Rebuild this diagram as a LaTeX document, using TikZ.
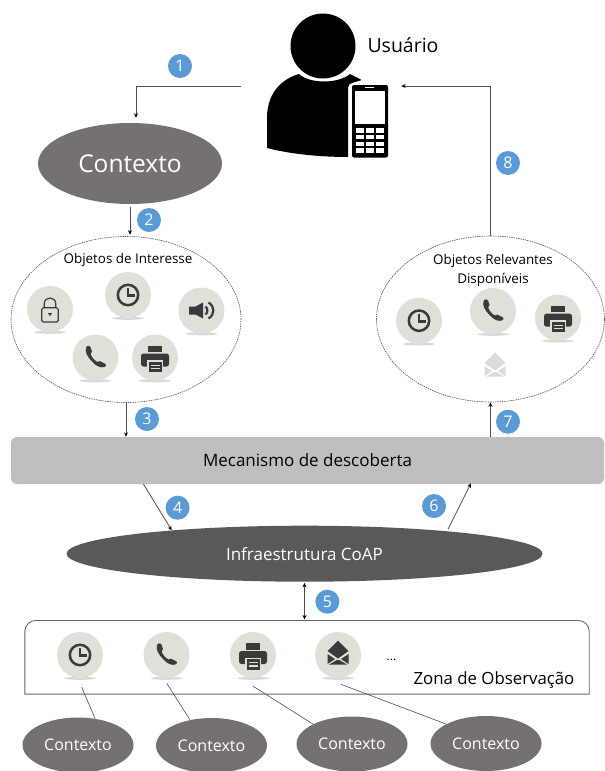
\documentclass[tikz,border=0pt]{standalone}
\usepackage{fontspec}
\setmainfont{Open Sans}
\usetikzlibrary{shapes.geometric,arrows.meta}
\definecolor{ctxgray}{HTML}{767171}
\definecolor{infragray}{HTML}{595959}
\definecolor{mechgray}{HTML}{BFBFBF}
\definecolor{badgeblue}{HTML}{5B9BD5}
\definecolor{iconbg}{HTML}{E0E0D9}
\definecolor{icondark}{HTML}{3A3A3A}
\definecolor{lineg}{HTML}{4D4D4D}
\newcommand{\fsz}[1]{\fontsize{#1}{19}\selectfont}
\tikzset{
  conn/.style={draw=lineg,line width=0.8pt},
  arr/.style={conn,-{Stealth[length=4.5pt,width=4pt,black]}},
  biarr/.style={conn,{Stealth[length=4.5pt,width=4pt,black]}-{Stealth[length=4.5pt,width=4pt,black]}},
  thinl/.style={draw=lineg,line width=0.6pt},
  badge/.style={circle,fill=badgeblue,text=white,minimum size=24pt,inner sep=0pt,font=\fsz{16}},
  ctxbig/.style={ellipse,fill=ctxgray,text=white,minimum width=184pt,minimum height=81pt,inner sep=0pt,font=\fsz{24.5}},
  ctxsmall/.style={ellipse,fill=ctxgray,text=white,minimum width=111pt,minimum height=55pt,inner sep=0pt,font=\fsz{16}},
  dashell/.style={ellipse,draw=lineg,line width=0.6pt,dash pattern=on 1.4pt off 0.9pt,inner sep=0pt},
  lbl/.style={inner sep=0pt,text=black,font=\fsz{13.4}},
  iconc/.style={circle,fill=iconbg,minimum size=46pt,inner sep=0pt},
  shadowc/.style={ellipse,fill=black!35,opacity=.42,minimum width=32pt,minimum height=3pt,inner sep=0pt},
  pics/clockg/.style={code={
    \draw[icondark,line width=2.5pt] (0,0) circle[radius=10.2pt];
    \draw[icondark,line width=2.4pt] (0,-6.8) -- (0,0.6) -- (7,0.6);}},
  pics/phoneg/.style={code={
    \fill[icondark] (-9,-11) .. controls (-7.5,-12) and (-5.5,-12) .. (-5,-10.5) -- (-3.5,-6)
      .. controls (-3.2,-4.8) and (-4,-4.2) .. (-4.8,-3.5)
      .. controls (-4,-0.5) and (-1,3) .. (2,4.5)
      .. controls (2.8,3.8) and (3.6,3.2) .. (4.5,3.6) -- (10,6.5)
      .. controls (11,7) and (10.5,8.5) .. (9.5,9.2)
      .. controls (6,11) and (1,9) .. (-3,4.5)
      .. controls (-8,-0.5) and (-11.5,-6) .. (-9,-11) -- cycle;}},
  pics/printerg/.style={code={
    \fill[icondark] (-7,-12) rectangle (7,-5.5);
    \fill[icondark,rounded corners=2.5pt] (-14,-4) rectangle (14,9);
    \fill[iconbg] (-8,2.6) rectangle (8,15.4);
    \fill[icondark] (-6.4,4.2) rectangle (6.8,14.6);
    \fill[iconbg] (-4.4,7.2) rectangle (4.8,8.4);
    \fill[iconbg] (-4.4,10.4) rectangle (4.8,11.6);}},
  pics/speakerg/.style={code={
    \fill[icondark] (-12.5,-4) -- (-6,-4) -- (1.5,-8) -- (1.5,8) -- (-6,4) -- (-12.5,4) -- cycle;
    \draw[icondark,line width=2.2pt] (4,-4) .. controls (6.5,-2) and (6.5,2) .. (4,4);
    \draw[icondark,line width=2.2pt] (7,-8) .. controls (13.5,-4) and (13.5,4) .. (7,8);}},
  pics/lockg/.style={code={
    \draw[icondark,line width=1.2pt,rounded corners=1.5pt] (-8.2,-1.2) rectangle (8.2,13);
    \draw[icondark,line width=1.2pt] (-5.8,-1.2) -- (-5.8,-5) .. controls (-5.8,-13) and (5.8,-13) .. (5.8,-5) -- (5.8,-1.2);
    \fill[icondark] (-1.6,4) rectangle (1.6,5.2);
    \fill[icondark] (-1.2,5.2) -- (1.2,5.2) -- (0,7.4) -- cycle;}},
  pics/envelg/.style={code={
    \fill[#1] (-10.5,-4) -- (0,-14.5) -- (10.5,-4) -- (0,3.5) -- cycle;
    \fill[#1] (-10.5,-1) -- (-3,4) -- (-10.5,9) -- cycle;
    \fill[#1] (10.5,-1) -- (3,4) -- (10.5,9) -- cycle;
    \fill[#1] (-9,9.5) -- (-1.5,5.2) -- (1.5,5.2) -- (9,9.5) -- cycle;}},
}
\newcommand{\iconat}[4]{%
  \node[shadowc] at (#2,#3+23.3) {};
  \node[iconc] (#1) at (#2,#3) {};
  \pic at (#1) {#4};}
\begin{document}
\begin{tikzpicture}[x=1pt,y=-1pt]
\useasboundingbox (0,0) rectangle (605,771);
\fill[white] (0,0) rectangle (605,771);

% ---------- user
\node[inner sep=0pt,minimum width=121pt,minimum height=144pt] (user) at (327.5,86) {};
\fill[black] (323,46) circle[radius=32.5pt];
\fill[black] (299,74) .. controls (285,78) and (267,90) .. (267,118) -- (267,148)
  .. controls (290,154) and (320,157) .. (348,157) -- (348,88)
  .. controls (348,85) and (350,83) .. (352,83) -- (361.7,80) -- (350,74)
  .. controls (338,84) and (310,84) .. (299,74) -- cycle;
\fill[black,rounded corners=2pt] (352,85) rectangle (388,157.5);
\fill[white] (355,91.3) rectangle (385,124.3);
\fill[white] (365,86.8) rectangle (373.5,88);
\foreach \ky/\kh in {127.7/5,134.7/4.7,141.7/4.3,147.7/4.8}{
  \fill[white] (355.5,\ky) rectangle (364,\ky+\kh);
  \fill[white] (365.7,\ky) rectangle (374,\ky+\kh);
  \fill[white] (376,\ky) rectangle (384,\ky+\kh);
}
\node[lbl,font=\fsz{19.5}] (userl) at (403,45) {Usuário};

% ---------- context and interest objects
\node[ctxbig] (ctx) at (130,163.5) {\raisebox{-1.5pt}{Contexto}};
\node[dashell,minimum width=230pt,minimum height=166pt] (ell1) at (126,319.5) {};
\node[lbl] (ell1l) at (128,260) {Objetos de Interesse};
\iconat{ilock}{50}{309}{lockg}
\iconat{iclock}{128}{295}{clockg}
\iconat{ispk}{201.5}{310.5}{speakerg}
\iconat{iphone}{95.5}{357.5}{phoneg}
\iconat{iprint}{155}{357.5}{printerg}

% ---------- relevant objects
\node[dashell,minimum width=228pt,minimum height=166pt] (ell2) at (490.5,319) {};
\node[lbl,align=center] (ell2l) at (493,271) {Objetos Relevantes\\Disponíveis};
\iconat{rclock}{419}{320.7}{clockg}
\iconat{rphone}{493}{311}{phoneg}
\iconat{rprint}{558}{317.7}{printerg}
\pic at (495,367) {envelg=black!14};

% ---------- middle
\node[rounded corners=6pt,fill=mechgray,minimum width=593pt,minimum height=47pt,inner sep=0pt,font=\fsz{17},text=black] (mech) at (307.5,460.5) {\raisebox{-1.5pt}{Mecanismo de descoberta}};
\node[ellipse,fill=infragray,minimum width=476pt,minimum height=56pt,inner sep=0pt,text=white,font=\fsz{17}] (infra) at (304.5,553.7) {Infraestrutura CoAP};

% ---------- observation zone
\node[minimum width=564pt,minimum height=73.3pt,inner sep=0pt] (zone) at (307,657.3) {};
\draw[draw=black!60,line width=0.9pt] (zone.south west) [rounded corners=11pt] -- (zone.north west) -- (zone.north east) [sharp corners] -- (zone.south east) -- cycle;
\iconat{zclock}{80}{655}{clockg}
\iconat{zphone}{166.5}{655}{phoneg}
\iconat{zprint}{253}{655}{printerg}
\iconat{zmail}{338}{655}{envelg=icondark}
\node[lbl,font=\fsz{12}] (zdots) at (391.5,660) {...};
\node[lbl,font=\fsz{16.8}] (zonel) at (494,680.5) {Zona de Observação};

\node[ctxsmall] (c1) at (78,745) {\raisebox{-1pt}{Contexto}};
\node[ctxsmall] (c2) at (211.5,745.5) {\raisebox{-1pt}{Contexto}};
\node[ctxsmall] (c3) at (352,744) {\raisebox{-1pt}{Contexto}};
\node[ctxsmall] (c4) at (486,743.5) {\raisebox{-1pt}{Contexto}};

% ---------- connectors
\draw[arr,shorten <=26pt,shorten >=5pt] (user.west) -| ([xshift=6pt]ctx.north);
\draw[arr,shorten <=3pt,shorten >=1.5pt] (ctx.south) -- (ctx.south |- ell1.north);
\draw[arr] (ell1.south) -- (ell1.south |- mech.north);
\draw[arr] ([xshift=-164pt]mech.south) -- (infra.170);
\draw[biarr,shorten <=1pt,shorten >=1pt] (infra.south) -- (infra.south |- zone.north);
\draw[arr,shorten <=2pt,shorten >=-1pt] (infra.9) -- ([xshift=163pt]mech.south);
\draw[arr] (mech.north -| ell2.south) -- (ell2.south);
\draw[arr,shorten >=13pt] (ell2.north) |- (user.east);
\draw[thinl] ([xshift=1.7pt,yshift=-9pt]zclock.south) -- (c1.57);
\draw[thinl] ([xshift=0.2pt,yshift=-5pt]zphone.south) -- (c2.130);
\draw[thinl] ([yshift=-8pt]zprint.south) -- (c3.153);
\draw[thinl] ([xshift=2.7pt,yshift=-6pt]zmail.south) -- (c4.154);

% ---------- badges
\node[badge] (b1) at (180,66) {1};
\node[badge] (b2) at (149,220) {2};
\node[badge] (b3) at (147,419) {3};
\node[badge] (b4) at (177.6,507.7) {4};
\node[badge] (b5) at (327.4,601.7) {5};
\node[badge] (b6) at (434,506) {6};
\node[badge] (b7) at (508,421.7) {7};
\node[badge] (b8) at (508,163) {8};
\end{tikzpicture}
\end{document}
